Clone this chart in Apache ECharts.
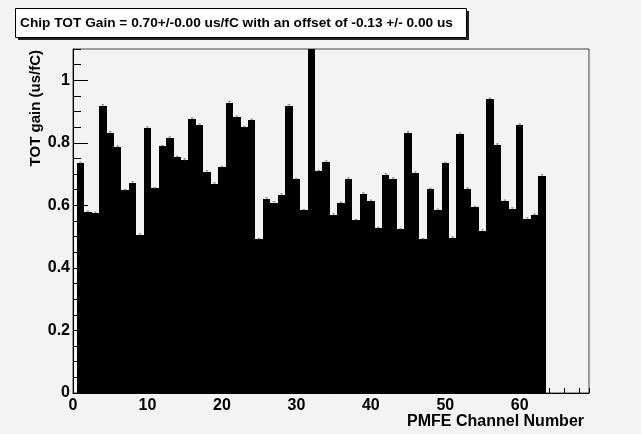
<!DOCTYPE html>
<html>
<head>
<meta charset="utf-8">
<script src="https://cdn.jsdelivr.net/npm/echarts@6/dist/echarts.min.js"></script>
<style>
html,body{margin:0;padding:0;background:#f3f3f3;}
#c{width:641px;height:434px;}
</style>
</head>
<body>
<div id="c"></div>
<script>
// PMFE channel numbers
const channels = [1,2,3,4,5,6,7,8,9,10,11,12,13,14,15,16,17,18,19,20,21,22,23,24,25,26,27,28,29,30,31,32,
  33,34,35,36,37,38,39,40,41,42,43,44,45,46,47,48,49,50,51,52,53,54,55,56,57,58,59,60,61,62,63];
// TOT gain (us/fC) per channel
const gains = [0.734,0.579,0.576,0.917,0.831,0.786,0.648,0.673,0.506,0.847,0.654,0.789,0.815,0.754,0.744,0.876,
  0.856,0.708,0.669,0.722,0.927,0.882,0.849,0.872,0.491,0.621,0.609,0.634,0.918,0.683,0.584,1.2,
  0.709,0.738,0.570,0.608,0.685,0.552,0.637,0.614,0.527,0.698,0.685,0.523,0.832,0.704,0.491,0.652,
  0.585,0.734,0.496,0.827,0.653,0.594,0.519,0.939,0.793,0.614,0.589,0.856,0.557,0.569,0.694];
// errors
const errors = [0.004,0.003,0.003,0.005,0.005,0.004,0.003,0.003,0.003,0.004,0.003,0.003,0.004,0.003,0.005,0.004,
  0.004,0.003,0.003,0.003,0.006,0.004,0.004,0.004,0.003,0.003,0.003,0.003,0.004,0.003,0.003,0.004,
  0.003,0.004,0.003,0.003,0.003,0.003,0.003,0.003,0.003,0.003,0.003,0.003,0.004,0.003,0.003,0.003,
  0.003,0.004,0.003,0.004,0.003,0.003,0.003,0.004,0.004,0.003,0.003,0.004,0.003,0.003,0.004];
const titleText = 'Chip TOT Gain = 0.70+/-0.00 us/fC with an offset of -0.13 +/- 0.00 us';
const xTitle = 'PMFE Channel Number';
const yTitle = 'TOT gain (us/fC)';

const FONT = "'Liberation Sans', Arial, Helvetica, sans-serif";
const chart = echarts.init(document.getElementById('c'), null, {renderer:'canvas'});
const data = channels.map((c,i)=>[c, gains[i], errors[i]]);

chart.setOption({
  backgroundColor: '#f3f3f3',
  animation: false,
  grid: {left:73, top:49, width:516, height:344, show:true, borderColor:'#444', borderWidth:1, backgroundColor:'transparent'},
  xAxis: [
    {type:'value', min:0, max:69.3, interval:10,
     axisLine:{show:true, onZero:false, lineStyle:{color:'#000', width:1}},
     axisTick:{show:true, inside:true, length:10, lineStyle:{color:'#000'}},
     axisLabel:{show:true, showMaxLabel:false, color:'#000', fontSize:16, fontWeight:'bold', fontFamily:FONT, margin:5},
     splitLine:{show:false}},
    {type:'value', min:0, max:69.3, interval:2, position:'bottom',
     axisLine:{show:false}, axisTick:{show:true, inside:true, length:5, lineStyle:{color:'#000'}},
     axisLabel:{show:false}, splitLine:{show:false}}
  ],
  yAxis: [
    {type:'value', min:0, max:1.1, interval:0.2,
     axisLine:{show:true, onZero:false, lineStyle:{color:'#000', width:1}},
     axisTick:{show:true, inside:true, length:15, lineStyle:{color:'#000'}},
     axisLabel:{show:true, showMaxLabel:false, color:'#000', fontSize:16, fontWeight:'bold', fontFamily:FONT, margin:3},
     splitLine:{show:false}},
    {type:'value', min:0, max:1.1, interval:0.05, position:'left',
     axisLine:{show:false}, axisTick:{show:true, inside:true, length:8, lineStyle:{color:'#000'}},
     axisLabel:{show:false}, splitLine:{show:false}}
  ],
  series: [
    {type:'custom', xAxisIndex:0, yAxisIndex:0, clip:true, data:data,
     renderItem:function(params, api){
       const c = api.value(0), v = api.value(1);
       const p0 = api.coord([c-0.5, v]);
       const p1 = api.coord([c+0.5, 0]);
       const x0 = Math.round(p0[0]), x1 = Math.round(p1[0]);
       const y0 = Math.round(p0[1]), y1 = Math.round(p1[1]);
       return {type:'rect', shape:{x:x0, y:y0, width:x1-x0, height:y1-y0},
               style:{fill:'#000'}};
     }},
    {type:'custom', xAxisIndex:0, yAxisIndex:0, clip:true, data:data, z:3,
     renderItem:function(params, api){
       const c = api.value(0), v = api.value(1), e = api.value(2);
       const top = api.coord([c, v+e]);
       const bot = api.coord([c, v]);
       const l = api.coord([c-0.17, v+e]);
       const r = api.coord([c+0.17, v+e]);
       return {type:'group', children:[
         {type:'line', shape:{x1:top[0], y1:top[1], x2:bot[0], y2:bot[1]}, style:{stroke:'#888', lineWidth:1}},
         {type:'line', shape:{x1:l[0], y1:l[1], x2:r[0], y2:r[1]}, style:{stroke:'#888', lineWidth:1}}
       ]};
     }}
  ],
  graphic: [
    {type:'rect', shape:{x:18, y:11, width:451, height:29}, style:{fill:'#222'}, z:10},
    {type:'rect', shape:{x:15.5, y:8.5, width:451, height:29}, style:{fill:'#fff', stroke:'#000', lineWidth:1}, z:11},
    {type:'text', x:20, y:23, z:12, style:{text:titleText, fill:'#000', font:"bold 13.7px "+FONT, textAlign:'left', textVerticalAlign:'middle'}},
    {type:'text', x:36, y:50, rotation:Math.PI/2, z:12, style:{text:yTitle, fill:'#000', font:"bold 15px "+FONT, textAlign:'right', textVerticalAlign:'middle'}},
    {type:'text', x:584, y:422, z:12, style:{text:xTitle, fill:'#000', font:"bold 16px "+FONT, textAlign:'right', textVerticalAlign:'middle'}}
  ]
});
</script>
</body>
</html>
